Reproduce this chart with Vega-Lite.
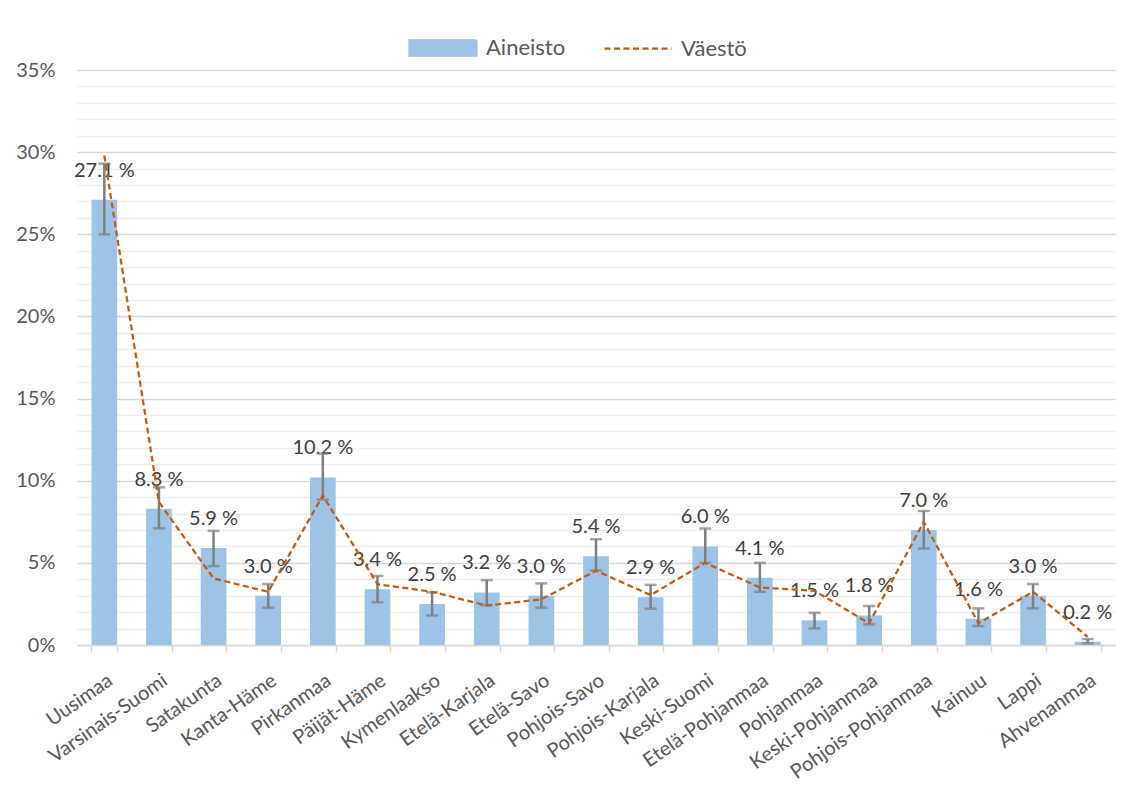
{
  "$schema": "https://vega.github.io/schema/vega-lite/v6.json",
  "autosize": {"type": "none"},
  "width": 1038,
  "height": 575,
  "padding": {"left": 77, "top": 70, "right": 14, "bottom": 164},
  "background": "white",
  "config": {"view": {"stroke": null}, "font": "Lato"},
  "resolve": {"axis": {"y": "independent"}},
  "data": {
    "values": [
      {"region": "Uusimaa", "aineisto": 27.1, "lo": 25.0, "hi": 29.3, "vaesto": 29.8, "label": "27.1 %"},
      {"region": "Varsinais-Suomi", "aineisto": 8.3, "lo": 7.1, "hi": 9.6, "vaesto": 8.7, "label": "8.3 %"},
      {"region": "Satakunta", "aineisto": 5.9, "lo": 4.8, "hi": 6.95, "vaesto": 4.05, "label": "5.9 %"},
      {"region": "Kanta-Häme", "aineisto": 3.0, "lo": 2.27, "hi": 3.71, "vaesto": 3.24, "label": "3.0 %"},
      {"region": "Pirkanmaa", "aineisto": 10.2, "lo": 8.85, "hi": 11.65, "vaesto": 9.1, "label": "10.2 %"},
      {"region": "Päijät-Häme", "aineisto": 3.4, "lo": 2.6, "hi": 4.2, "vaesto": 3.7, "label": "3.4 %"},
      {"region": "Kymenlaakso", "aineisto": 2.5, "lo": 1.8, "hi": 3.2, "vaesto": 3.24, "label": "2.5 %"},
      {"region": "Etelä-Karjala", "aineisto": 3.2, "lo": 2.43, "hi": 3.95, "vaesto": 2.4, "label": "3.2 %"},
      {"region": "Etelä-Savo", "aineisto": 3.0, "lo": 2.27, "hi": 3.75, "vaesto": 2.78, "label": "3.0 %"},
      {"region": "Pohjois-Savo", "aineisto": 5.4, "lo": 4.54, "hi": 6.44, "vaesto": 4.52, "label": "5.4 %"},
      {"region": "Pohjois-Karjala", "aineisto": 2.9, "lo": 2.21, "hi": 3.66, "vaesto": 3.04, "label": "2.9 %"},
      {"region": "Keski-Suomi", "aineisto": 6.0, "lo": 5.0, "hi": 7.09, "vaesto": 5.0, "label": "6.0 %"},
      {"region": "Etelä-Pohjanmaa", "aineisto": 4.1, "lo": 3.24, "hi": 5.0, "vaesto": 3.5, "label": "4.1 %"},
      {"region": "Pohjanmaa", "aineisto": 1.5, "lo": 1.01, "hi": 1.96, "vaesto": 3.3, "label": "1.5 %"},
      {"region": "Keski-Pohjanmaa", "aineisto": 1.8, "lo": 1.26, "hi": 2.37, "vaesto": 1.32, "label": "1.8 %"},
      {"region": "Pohjois-Pohjanmaa", "aineisto": 7.0, "lo": 5.87, "hi": 8.16, "vaesto": 7.49, "label": "7.0 %"},
      {"region": "Kainuu", "aineisto": 1.6, "lo": 1.15, "hi": 2.23, "vaesto": 1.32, "label": "1.6 %"},
      {"region": "Lappi", "aineisto": 3.0, "lo": 2.23, "hi": 3.71, "vaesto": 3.24, "label": "3.0 %"},
      {"region": "Ahvenanmaa", "aineisto": 0.2, "lo": 0.1, "hi": 0.36, "vaesto": 0.5, "label": "0.2 %"}
    ]
  },
  "encoding": {
    "x": {
      "field": "region",
      "type": "nominal",
      "sort": null,
      "scale": {"paddingInner": 0.53, "paddingOuter": 0.265},
      "axis": {
        "title": null,
        "labelAngle": -35,
        "labelAlign": "right",
        "labelBaseline": "top",
        "labelPadding": 18,
        "labelFontSize": 20,
        "labelColor": "#595959",
        "tickBand": "extent",
        "tickSize": 7,
        "tickColor": "#D9D9D9",
        "tickWidth": 1.5,
        "domainColor": "#D9D9D9",
        "domainWidth": 1.5,
        "labelOverlap": false
      }
    }
  },
  "layer": [
    {
      "mark": {"type": "rule", "opacity": 0},
      "encoding": {
        "y": {
          "field": "aineisto",
          "type": "quantitative",
          "scale": {"domain": [0, 35], "nice": false},
          "axis": {
            "orient": "left",
            "title": null,
            "values": [1,2,3,4,6,7,8,9,11,12,13,14,16,17,18,19,21,22,23,24,26,27,28,29,31,32,33,34],
            "labels": false,
            "grid": true,
            "gridColor": "#EEEEEE",
            "gridWidth": 1.5,
            "domain": false,
            "ticks": false
          }
        }
      }
    },
    {
      "mark": {"type": "bar"},
      "encoding": {
        "y": {
          "field": "aineisto",
          "type": "quantitative",
          "axis": {
            "orient": "left",
            "title": null,
            "values": [0, 5, 10, 15, 20, 25, 30, 35],
            "labelExpr": "datum.value + '%'",
            "grid": true,
            "gridColor": "#D9D9D9",
            "gridWidth": 1.5,
            "domain": false,
            "ticks": false,
            "labelPadding": 22,
            "labelFontSize": 20,
            "labelColor": "#595959",
            "labelOverlap": false
          }
        },
        "color": {
          "datum": "Aineisto",
          "scale": {"domain": ["Aineisto", "Väestö"], "range": ["#9DC3E6", "#C55A11"]},
          "legend": {
            "orient": "none",
            "legendX": 331,
            "legendY": -57.5,
            "direction": "horizontal",
            "title": null,
            "symbolSize": 4489,
            "labelFontSize": 22,
            "labelColor": "#595959",
            "labelOffset": 8,
            "columnPadding": 34,
            "encode": {
              "symbols": {
                "update": {
                  "shape": {"signal": "datum.label === 'Aineisto' ? 'M-1,-0.224H1V0.224H-1Z' : 'M-1,0H1'"},
                  "fill": {"signal": "datum.label === 'Aineisto' ? '#9DC3E6' : 'transparent'"},
                  "stroke": {"signal": "datum.label === 'Aineisto' ? 'transparent' : '#C55A11'"},
                  "strokeWidth": {"value": 2.25},
                  "strokeDash": {"signal": "datum.label === 'Aineisto' ? [1,0] : [6,3.5]"},
                  "opacity": {"value": 1}
                }
              }
            }
          }
        }
      }
    },
    {
      "mark": {"type": "text", "dy": -29, "fontSize": 20, "color": "#404040", "baseline": "middle"},
      "encoding": {
        "y": {"field": "aineisto", "type": "quantitative", "axis": null},
        "text": {"field": "label"}
      }
    },
    {
      "mark": {"type": "rule", "color": "#7F7F7F", "strokeWidth": 2.5},
      "encoding": {
        "y": {"field": "lo", "type": "quantitative", "axis": null},
        "y2": {"field": "hi"}
      }
    },
    {
      "mark": {"type": "tick", "color": "#7F7F7F", "thickness": 2.5, "size": 12, "orient": "horizontal"},
      "encoding": {"y": {"field": "lo", "type": "quantitative", "axis": null}}
    },
    {
      "mark": {"type": "tick", "color": "#7F7F7F", "thickness": 2.5, "size": 12, "orient": "horizontal"},
      "encoding": {"y": {"field": "hi", "type": "quantitative", "axis": null}}
    },
    {
      "mark": {"type": "line", "strokeDash": [6, 3.5], "strokeWidth": 2.25},
      "encoding": {
        "y": {"field": "vaesto", "type": "quantitative", "axis": null},
        "color": {"datum": "Väestö"}
      }
    }
  ]
}
